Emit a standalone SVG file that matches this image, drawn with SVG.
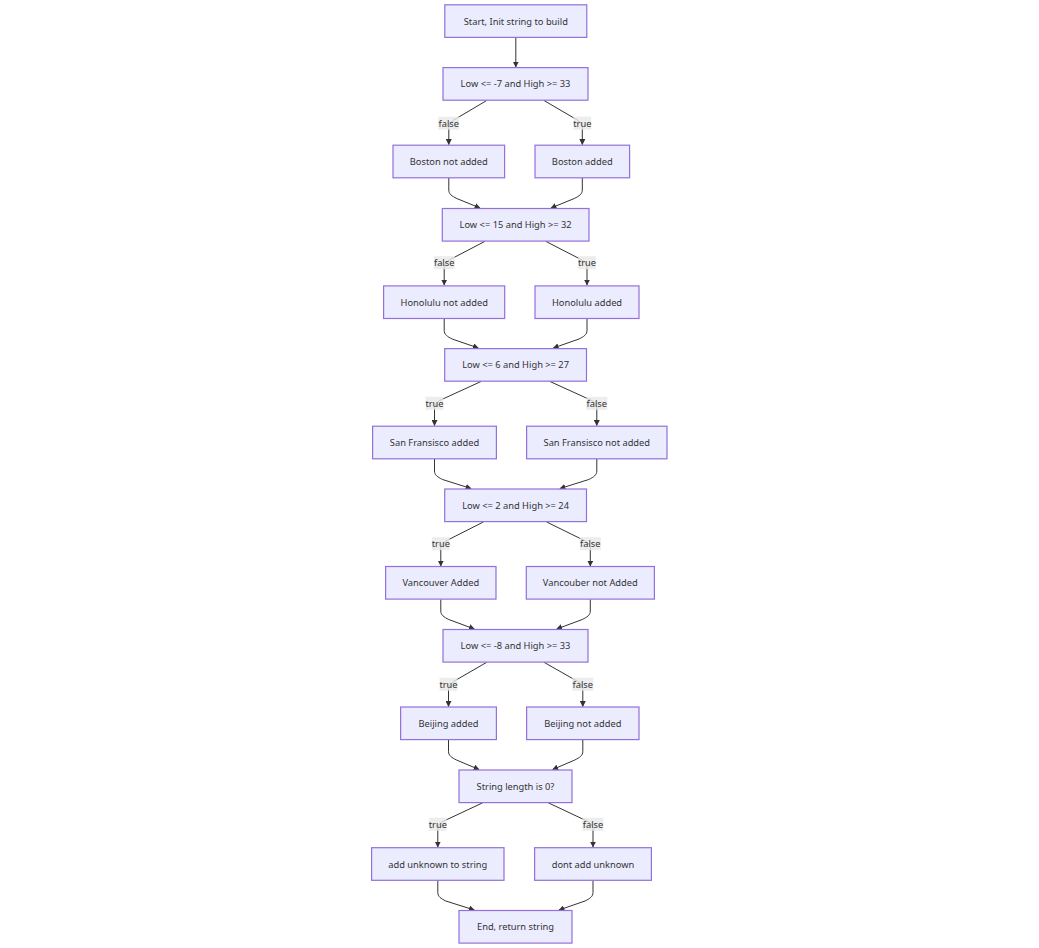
<svg xmlns="http://www.w3.org/2000/svg" width="1039" height="948" viewBox="0 0 1039 948">
<defs>
<marker id="arr" viewBox="0 0 10 10" refX="9" refY="5" markerWidth="6" markerHeight="6" markerUnits="userSpaceOnUse" orient="auto">
<path d="M0,0 L10,5 L0,10 z" fill="#333"/>
</marker>
<style>
.n rect{fill:#ECECFF;stroke:#9370DB;stroke-width:1.2}
.n text,.lb text{font-family:"Noto Sans","DejaVu Sans",sans-serif;font-size:9.3px;fill:#333;text-anchor:middle;dominant-baseline:central}
.e path{fill:none;stroke:#333;stroke-width:1;marker-end:url(#arr)}
.lb rect{fill:#e8e8e8;opacity:0.8}
</style>
</defs>
<rect width="1039" height="948" fill="#fff"/>
<g class="e" id="connectors">
<path d="M515.8,37.5 L515.8,67"/>
<path d="M486.7,100.5 L453.8,120 Q448.8,123 448.8,127 L448.8,144.5"/>
<path d="M544,100.5 L577.3,120 Q582.3,123 582.3,127 L582.3,144.5"/>
<path d="M448.8,178 L448.8,190 C448.8,194 451.8,196 456.8,198.5 L480,208"/>
<path d="M582.3,178 L582.3,190 C582.3,194 579.3,196 574.3,198.5 L551,208"/>
<path d="M485,241.3 L449.2,260 Q444.2,263 444.2,267 L444.2,285"/>
<path d="M545.7,241.3 L582,260 Q587,263 587,267 L587,285"/>
<path d="M444.2,318.7 L444.2,330.5 C444.2,334.5 447.2,336.5 452.2,339 L478.3,348"/>
<path d="M587,318.7 L587,330.5 C587,334.5 584,336.5 579,339 L553.3,348"/>
<path d="M481,381.5 L439.5,400.5 Q434.5,403.5 434.5,407.5 L434.5,425.5"/>
<path d="M550,381.5 L591.8,400.5 Q596.8,403.5 596.8,407.5 L596.8,425.5"/>
<path d="M434.5,459 L434.5,471 C434.5,475 437.5,477 442.5,479.5 L471,488.5"/>
<path d="M596.8,459 L596.8,471 C596.8,475 593.8,477 588.8,479.5 L560,488.5"/>
<path d="M483.3,522 L445.8,541 Q440.8,544 440.8,548 L440.8,566"/>
<path d="M546.7,522 L585.3,541 Q590.3,544 590.3,548 L590.3,566"/>
<path d="M440.8,599.5 L440.8,611 C440.8,615 443.8,617 448.8,619.5 L474.3,629"/>
<path d="M590.3,599.5 L590.3,611 C590.3,615 587.3,617 582.3,619.5 L556.7,629"/>
<path d="M486.7,662.3 L453.5,681.5 Q448.5,684.5 448.5,688.5 L448.5,706.5"/>
<path d="M544,662.3 L577.8,681.5 Q582.8,684.5 582.8,688.5 L582.8,706.5"/>
<path d="M448.5,739.8 L448.5,751.5 C448.5,755.5 451.5,757.5 456.5,760 L479,769.5"/>
<path d="M582.8,739.8 L582.8,751.5 C582.8,755.5 579.8,757.5 574.8,760 L552.7,769.5"/>
<path d="M482.7,802.8 L442.8,821.5 Q437.8,824.5 437.8,828.5 L437.8,847"/>
<path d="M548.3,802.8 L588,821.5 Q593,824.5 593,828.5 L593,847"/>
<path d="M437.8,880.5 L437.8,892.5 C437.8,896.5 440.8,898.5 445.8,901 L474.3,910"/>
<path d="M593,880.5 L593,892.5 C593,896.5 590,898.5 585,901 L559,910"/>
</g>
<g class="lb" id="edge-labels">
<rect x="438.3" y="116.7" width="21" height="13"/><text x="448.8" y="123.2">false</text>
<rect x="573.4" y="116.7" width="17.8" height="13"/><text x="582.3" y="123.2">true</text>
<rect x="433.7" y="256.2" width="21" height="13"/><text x="444.2" y="262.7">false</text>
<rect x="578.1" y="256.2" width="17.8" height="13"/><text x="587" y="262.7">true</text>
<rect x="425.6" y="396.8" width="17.8" height="13"/><text x="434.5" y="403.3">true</text>
<rect x="586.3" y="396.8" width="21" height="13"/><text x="596.8" y="403.3">false</text>
<rect x="431.9" y="537.2" width="17.8" height="13"/><text x="440.8" y="543.7">true</text>
<rect x="579.8" y="537.2" width="21" height="13"/><text x="590.3" y="543.7">false</text>
<rect x="439.6" y="677.8" width="17.8" height="13"/><text x="448.5" y="684.3">true</text>
<rect x="572.3" y="677.8" width="21" height="13"/><text x="582.8" y="684.3">false</text>
<rect x="428.9" y="817.8" width="17.8" height="13"/><text x="437.8" y="824.3">true</text>
<rect x="582.5" y="817.8" width="21" height="13"/><text x="593" y="824.3">false</text>
</g>
<g class="n" id="start"><rect x="444.8" y="4.8" width="142" height="32.6"/><text x="515.8" y="21.1">Start, Init string to build</text></g>
<g class="n" id="c1"><rect x="443" y="67.6" width="145" height="32.6"/><text x="515.5" y="83.9">Low &lt;= -7 and High &gt;= 33</text></g>
<g class="n" id="boston-no"><rect x="393" y="145.2" width="111.6" height="32.6"/><text x="448.8" y="161.5">Boston not added</text></g>
<g class="n" id="boston-yes"><rect x="535" y="145.2" width="94.6" height="32.6"/><text x="582.3" y="161.5">Boston added</text></g>
<g class="n" id="c2"><rect x="442.3" y="208.5" width="146.7" height="32.6"/><text x="515.6" y="224.8">Low &lt;= 15 and High &gt;= 32</text></g>
<g class="n" id="honolulu-no"><rect x="383.6" y="285.9" width="121.1" height="32.6"/><text x="444.2" y="302.2">Honolulu not added</text></g>
<g class="n" id="honolulu-yes"><rect x="535" y="285.9" width="104" height="32.6"/><text x="587" y="302.2">Honolulu added</text></g>
<g class="n" id="c3"><rect x="444.7" y="348.6" width="141.8" height="32.6"/><text x="515.6" y="364.9">Low &lt;= 6 and High &gt;= 27</text></g>
<g class="n" id="sf-yes"><rect x="372.6" y="426.2" width="123.8" height="32.6"/><text x="434.5" y="442.5">San Fransisco added</text></g>
<g class="n" id="sf-no"><rect x="526.6" y="426.2" width="140.4" height="32.6"/><text x="596.8" y="442.5">San Fransisco not added</text></g>
<g class="n" id="c4"><rect x="444.7" y="489" width="141.8" height="32.6"/><text x="515.6" y="505.3">Low &lt;= 2 and High &gt;= 24</text></g>
<g class="n" id="van-yes"><rect x="385.6" y="566.5" width="110.4" height="32.6"/><text x="440.8" y="582.8">Vancouver Added</text></g>
<g class="n" id="van-no"><rect x="526.3" y="566.5" width="128.1" height="32.6"/><text x="590.3" y="582.8">Vancouber not Added</text></g>
<g class="n" id="c5"><rect x="443" y="629.5" width="145" height="32.6"/><text x="515.5" y="645.8">Low &lt;= -8 and High &gt;= 33</text></g>
<g class="n" id="beijing-yes"><rect x="400.6" y="707" width="95.8" height="32.6"/><text x="448.5" y="723.3">Beijing added</text></g>
<g class="n" id="beijing-no"><rect x="526.6" y="707" width="112.4" height="32.6"/><text x="582.8" y="723.3">Beijing not added</text></g>
<g class="n" id="c6"><rect x="459" y="770" width="113" height="32.6"/><text x="515.5" y="786.3">String length is 0?</text></g>
<g class="n" id="unknown-yes"><rect x="371.6" y="847.7" width="132.4" height="32.6"/><text x="437.8" y="864">add unknown to string</text></g>
<g class="n" id="unknown-no"><rect x="534.6" y="847.7" width="116.8" height="32.6"/><text x="593" y="864">dont add unknown</text></g>
<g class="n" id="end"><rect x="459" y="910.5" width="113" height="32.6"/><text x="515.5" y="926.8">End, return string</text></g>
</svg>
